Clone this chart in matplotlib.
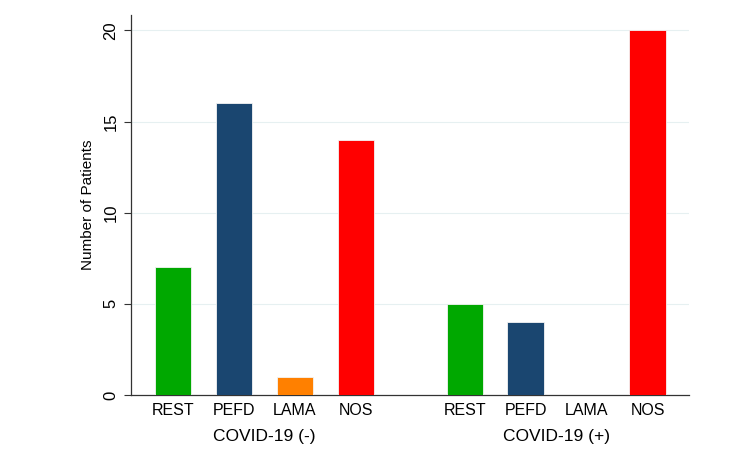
import numpy as np
from matplotlib import pyplot as plt
from matplotlib.transforms import blended_transform_factory

plt.rcParams['font.family'] = ['Liberation Sans', 'DejaVu Sans']

categories = ['REST', 'PEFD', 'LAMA', 'NOS']
groups = ['COVID-19 (-)', 'COVID-19 (+)']
covid_neg = [7, 16, 1, 14]
covid_pos = [5, 4, 0, 20]
colors = ['#00a800', '#1a4670', '#ff8000', '#ff0000']

fig = plt.figure(figsize=(7.5, 4.63), dpi=100)
ax = fig.add_axes([0.1747, 0.1469, 0.744, 0.8207])

gap = 1.79
pos_neg = np.arange(4)
pos_pos = np.arange(4) + 3 + gap

for vals, pos in [(covid_neg, pos_neg), (covid_pos, pos_pos)]:
    ax.bar(pos, vals, width=0.6, color=colors, edgecolor='#f4f4f4', linewidth=0.6, zorder=3)

ax.set_xlim(-0.69, pos_pos[-1] + 0.68)
ax.set_ylim(0, 20.85)
ax.set_yticks([0, 5, 10, 15, 20])
ax.set_yticklabels(['0', '5', '10', '15', '20'], rotation=90, va='center', fontsize=12)
for t in [5, 10, 15, 20]:
    ax.axhline(t, color='#e6f0f1', linewidth=0.8, zorder=1)

ax.set_xticks(np.concatenate([pos_neg, pos_pos]))
ax.set_xticklabels(categories * 2, fontsize=11.5)
ax.tick_params(axis='x', length=0, pad=6)
ax.tick_params(axis='y', length=5, width=0.8, color='#333333', pad=4)

for s in ['top', 'right']:
    ax.spines[s].set_visible(False)
for s in ['left', 'bottom']:
    ax.spines[s].set_color('#333333')
    ax.spines[s].set_linewidth(0.9)

ax.set_ylabel('Number of Patients', fontsize=11, labelpad=6)

trans = blended_transform_factory(ax.transData, fig.transFigure)
ax.text(pos_neg.mean(), 1 - 437 / 463, groups[0], transform=trans, ha='center', va='center', fontsize=12.5)
ax.text(pos_pos.mean(), 1 - 437 / 463, groups[1], transform=trans, ha='center', va='center', fontsize=12.5)

plt.savefig('out.png', dpi=100)
